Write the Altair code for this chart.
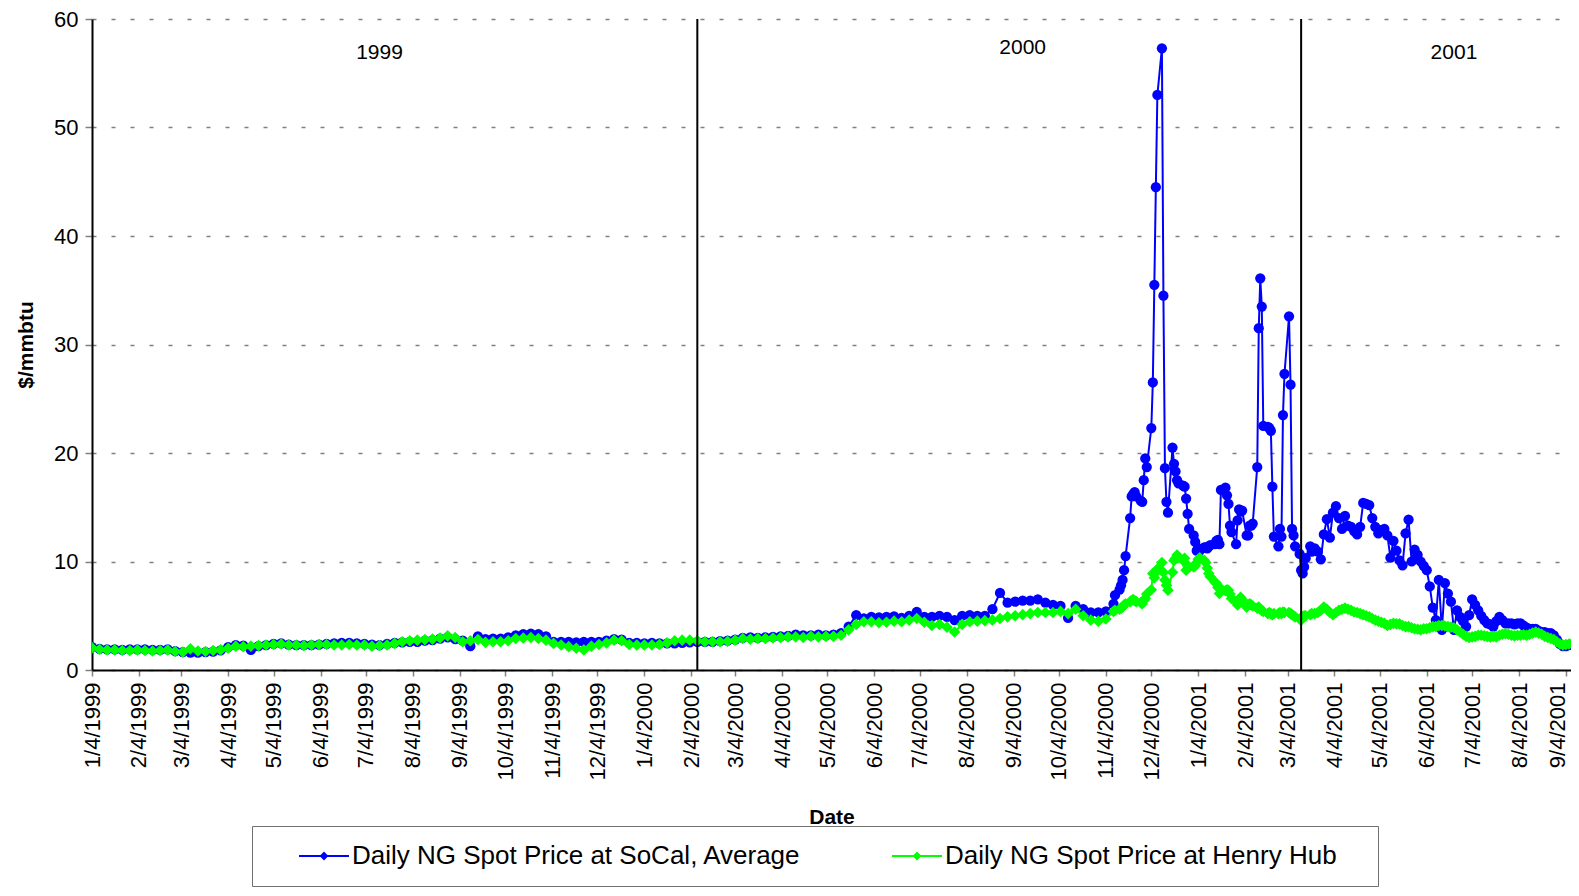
import altair as alt
import pandas as pd

FONT = "Liberation Sans"
SERIES = ["Daily NG Spot Price at SoCal, Average", "Daily NG Spot Price at Henry Hub"]
COLORS = ["#0000FF", "#00FF00"]

# Segment 1: every 5 days from 1999-01-04
SEG1_START = "1999-01-04"
SEG1_SOCAL = [2.1, 1.95, 1.9, 1.9, 1.85, 1.9,
              1.9, 1.9, 1.85, 1.85, 1.9,
              1.75, 1.65, 1.6, 1.6, 1.65, 1.7, 1.8,
              2.1, 2.3, 2.25, 1.85, 2.2, 2.3,
              2.4, 2.45, 2.35, 2.3, 2.3, 2.3,
              2.35, 2.4, 2.45, 2.5, 2.5, 2.45,
              2.4, 2.35, 2.3, 2.4, 2.5, 2.55,
              2.6, 2.6, 2.7, 2.75, 2.9, 3.0,
              2.85, 2.7, 2.2, 3.1, 2.85, 2.9,
              2.9, 3.0, 3.2, 3.3, 3.35, 3.3, 3.1,
              2.6, 2.6, 2.6, 2.55, 2.6, 2.6,
              2.6, 2.7, 2.85, 2.8, 2.5, 2.5,
              2.45, 2.5, 2.45, 2.45, 2.45, 2.5,
              2.55, 2.6, 2.6, 2.6, 2.65, 2.7,
              2.8, 2.95, 3.0, 2.95, 3.0, 3.05,
              3.1, 3.15, 3.25, 3.2, 3.2, 3.25,
              3.2, 3.25, 3.4, 4.0, 5.05, 4.75,
              4.9, 4.85, 4.9, 4.95, 4.8, 5.0,
              5.35, 4.9, 4.9, 5.0, 4.9, 4.6,
              5.0, 5.05, 5.0, 5.0, 5.6, 7.1,
              6.2, 6.3, 6.4, 6.4, 6.5, 6.2, 6.0,
              5.9, 4.8, 5.9, 5.6, 5.3, 5.3,
              5.4, 6.1]
SEG1_HH = [2.05, 1.9, 1.85, 1.85, 1.8, 1.8,
           1.85, 1.8, 1.75, 1.8, 1.85,
           1.7, 1.65, 1.95, 1.75, 1.7, 1.8, 1.85,
           2.0, 2.2, 2.15, 2.2, 2.25, 2.3,
           2.35, 2.4, 2.3, 2.3, 2.25, 2.3,
           2.35, 2.35, 2.3, 2.3, 2.35, 2.3,
           2.3, 2.2, 2.25, 2.3, 2.45, 2.6,
           2.7, 2.75, 2.8, 2.85, 2.95, 3.15,
           3.0, 2.6, 2.7, 2.8, 2.55, 2.6,
           2.6, 2.7, 2.9, 2.95, 3.0, 2.9, 2.75,
           2.45, 2.3, 2.15, 2.0, 1.85, 2.2,
           2.35, 2.5, 2.75, 2.7, 2.35, 2.3,
           2.3, 2.3, 2.35, 2.5, 2.7, 2.75,
           2.75, 2.7, 2.6, 2.6, 2.6, 2.65,
           2.75, 2.9, 2.85, 2.9, 2.9, 2.95,
           3.0, 3.05, 3.05, 3.0, 3.1, 3.05,
           3.1, 3.1, 3.2, 3.7, 4.2, 4.45,
           4.45, 4.35, 4.4, 4.5, 4.45, 4.6,
           4.75, 4.4, 4.1, 4.2, 3.95, 3.5,
           4.2, 4.45, 4.5, 4.55, 4.6, 4.75,
           4.9, 5.0, 5.1, 5.2, 5.3, 5.3, 5.3,
           5.4, 5.2, 5.6, 5.0, 4.6, 4.5,
           4.7, 5.4]

# Segment 2: every business day from 2000-11-10
SEG2_START = "2000-11-10"
SEG2_SOCAL = [6.9,
              7.4, 7.8, 8.3, 9.2, 10.5,
              14.0, 16.0, 16.2, 16.4, 16.0,
              15.6, 15.5, 17.5, 19.5, 18.7,
              22.3, 26.5, 35.5, 44.5, 53.0,
              57.3, 34.5, 18.6, 15.5, 14.5,
              20.5, 19.0, 18.3, 17.5, 17.2,
              17.0, 16.9, 15.8, 14.4, 13.0,
              12.4, 11.8, 11.0, 11.2, 11.0,
              11.3, 11.3, 11.2, 11.4, 11.5,
              11.6, 11.9, 12.0, 11.6, 16.6,
              16.8, 16.1, 15.3, 13.3, 12.7,
              11.6, 13.8, 14.8, 14.6, 14.7,
              12.4, 12.4, 13.3, 13.3, 13.5,
              18.7, 31.5, 36.1, 33.5, 22.5,
              22.4, 22.3, 22.05, 16.9, 12.3,
              11.4, 13.0, 12.3, 23.5, 27.3,
              32.6, 26.3, 13.0, 12.4, 11.4,
              10.7, 9.2, 8.9, 9.5, 10.3,
              11.4, 10.9]
SEG2_HH = [5.5,
           5.6, 5.7, 5.8, 6.0, 6.1,
           6.3, 6.4, 6.5, 6.4, 6.3,
           6.2, 6.1, 6.4, 6.6, 7.0,
           7.4, 8.9, 8.5, 9.0, 9.3,
           9.9, 9.0, 8.3, 7.8, 7.35,
           9.0, 10.1, 10.3, 10.6, 10.4,
           10.1, 10.3, 9.2, 9.6, 9.5,
           9.5, 9.6, 9.9, 10.2, 10.35,
           10.1, 9.9, 9.4, 8.9, 8.6,
           8.1, 8.0, 7.6, 7.05, 7.5,
           7.3, 7.4, 7.35, 7.0, 6.6,
           6.3, 6.0, 6.2, 6.7, 6.5,
           5.8, 6.0, 6.1, 6.0, 5.9,
           5.7, 5.8, 5.6, 5.5, 5.4,
           5.2, 5.3, 5.2, 5.1, 5.2,
           5.2, 5.3, 5.2, 5.35, 5.3,
           5.3, 5.2, 5.1, 5.0, 4.9,
           4.7, 4.6, 4.9, 5.0, 5.0,
           5.1, 5.2]

# Segment 3: every 2 days from 2001-03-22
SEG3_START = "2001-03-22"
SEG3_SOCAL = [11.2, 10.9, 10.2, 12.5, 13.9, 12.2, 14.5, 15.1, 14.0, 13.0,
              14.2, 13.3, 13.2, 12.8, 12.5, 13.2, 15.4, 15.3, 15.2, 14.0,
              13.2, 12.6, 12.9, 13.0, 12.4, 10.35, 11.9, 11.0, 10.1, 9.65,
              12.6, 13.85, 10.0, 11.1, 10.6, 10.0, 9.6, 9.2, 7.7, 5.75,
              4.6, 8.3, 3.7, 8.0, 7.05, 6.3, 3.7, 5.5, 4.9, 4.5,
              4.0, 5.05, 6.5, 6.0, 5.5, 5.0, 4.6, 4.3, 4.2, 4.0,
              4.5, 4.9, 4.6, 4.3, 4.3, 4.3, 4.2, 4.3, 4.3, 4.1,
              3.9, 3.8, 3.8, 3.8, 3.6, 3.5, 3.5, 3.4, 3.4, 3.2,
              2.8, 2.4, 2.2, 2.2, 2.3, 2.3, 2.3, 2.3]
SEG3_HH = [5.2, 5.3, 5.5, 5.8, 5.6, 5.3, 5.1, 5.3, 5.5, 5.6,
           5.7, 5.6, 5.5, 5.35, 5.3, 5.2, 5.1, 5.0, 4.9, 4.75,
           4.6, 4.5, 4.4, 4.3, 4.1, 4.2, 4.3, 4.25, 4.25, 4.1,
           4.0, 4.0, 3.9, 3.8, 3.75, 3.7, 3.8, 3.8, 3.9, 4.0,
           4.0, 4.1, 4.1, 4.05, 4.0, 3.95, 3.9, 3.7, 3.5, 3.3,
           3.1, 3.0, 3.05, 3.1, 3.2, 3.2, 3.15, 3.1, 3.05, 3.1,
           3.05, 3.2, 3.3, 3.35, 3.3, 3.2, 3.15, 3.2, 3.2, 3.25,
           3.2, 3.3, 3.4, 3.5, 3.4, 3.3, 3.1, 3.0, 2.9, 2.8,
           2.6, 2.4, 2.3, 2.35, 2.4, 2.45, 2.4, 2.45]

TICK_DATES = ["1999-01-04", "1999-02-04", "1999-03-04", "1999-04-04", "1999-05-04", "1999-06-04",
              "1999-07-04", "1999-08-04", "1999-09-04", "1999-10-04", "1999-11-04", "1999-12-04",
              "2000-01-04", "2000-02-04", "2000-03-04", "2000-04-04", "2000-05-04", "2000-06-04",
              "2000-07-04", "2000-08-04", "2000-09-04", "2000-10-04", "2000-11-04", "2000-12-04",
              "2001-01-04", "2001-02-04", "2001-03-04", "2001-04-04", "2001-05-04", "2001-06-04",
              "2001-07-04", "2001-08-04", "2001-09-04"]
X_DOMAIN = ["1999-01-04", "2001-09-07 08:00"]

YEAR_LINE_DATES = ["2000-02-08", "2001-03-13"]
YEAR_LABELS = ["1999", "2000", "2001"]
YEAR_LABEL_DATES = ["1999-07-13", "2000-09-10", "2001-06-22"]
YEAR_LABEL_VALUES = [56.9, 57.3, 56.9]

Y_TICKS = [0, 10, 20, 30, 40, 50, 60]

d1 = pd.date_range(SEG1_START, periods=len(SEG1_SOCAL), freq="5D")
d2 = pd.bdate_range(SEG2_START, periods=len(SEG2_SOCAL))
d3 = pd.date_range(SEG3_START, periods=len(SEG3_SOCAL), freq="2D")
dates = [d.strftime("%Y-%m-%d") for d in list(d1) + list(d2) + list(d3)]
socal = SEG1_SOCAL + SEG2_SOCAL + SEG3_SOCAL
hh = SEG1_HH + SEG2_HH + SEG3_HH
n = len(dates)
df = pd.DataFrame({
    "date": dates + dates,
    "price": socal + hh,
    "series": [SERIES[0]] * n + [SERIES[1]] * n,
})

ms = lambda s: int(pd.Timestamp(s).value // 10**6)
tick_ms = [ms(s) for s in TICK_DATES]
x_domain = [ms(s) for s in X_DOMAIN]

x_enc = alt.X("date:T",
              scale=alt.Scale(type="utc", domain=x_domain),
              axis=alt.Axis(values=tick_ms, labelExpr="utcFormat(datum.value, '%-m/%-d/%Y')",
                            labelAngle=270, labelAlign="right", labelBaseline="middle",
                            labelFontSize=22, labelPadding=6, labelOverlap=False,
                            labelOffset={"condition": {"test": f"datum.value >= {tick_ms[-1]}",
                                                       "value": -8}, "value": 0},
                            grid=False, domainColor="black", domainWidth=2,
                            tickColor="#808080", tickSize=6, tickWidth=1.5,
                            title="Date", titleFontSize=21, titleFontWeight="bold",
                            titlePadding=27))
y_enc = alt.Y("price:Q",
              scale=alt.Scale(domain=[0, 60], nice=False),
              axis=alt.Axis(values=Y_TICKS, labelFontSize=22, labelPadding=7,
                            grid=True, gridDash=[4, 15], gridColor="#808080", gridWidth=1.5,
                            domainColor="black", domainWidth=2,
                            tickColor="#808080", tickSize=7, tickWidth=1.5,
                            title="$/mmbtu", titleFontSize=21, titleFontWeight="bold",
                            titlePadding=17))

LEGEND_SYMBOL = "M3.4,0L13.4,0M8.4,-0.6L9.0,0L8.4,0.6L7.8,0Z"
legend = alt.Legend(orient="none", legendX=160, legendY=807, direction="horizontal",
                    title=" ", titleOrient="right", titleFontSize=26, titlePadding=24,
                    strokeColor="#707070", padding=17, fillColor="white",
                    symbolType=LEGEND_SYMBOL, symbolSize=100, symbolStrokeWidth=2,
                    labelFont=FONT, labelFontSize=26, labelColor="black",
                    labelOffset=57, columnPadding=61, labelLimit=800)
color_enc = alt.Color("series:N", scale=alt.Scale(domain=SERIES, range=COLORS), legend=legend)

base = alt.Chart(df).encode(x=x_enc, y=y_enc, color=color_enc)
s_blue = base.transform_filter(alt.datum.series == SERIES[0])
s_green = base.transform_filter(alt.datum.series == SERIES[1])

blue_line = s_blue.mark_line(strokeWidth=2, clip=True)
blue_pts = s_blue.mark_point(filled=True, shape="circle", size=105, opacity=1, clip=True)
green_line = s_green.mark_line(strokeWidth=2, clip=True)
green_pts = s_green.mark_point(filled=True, shape="diamond", size=135, opacity=1, clip=True)

rules = alt.Chart(pd.DataFrame({"date": YEAR_LINE_DATES})).mark_rule(
    color="black", strokeWidth=2).encode(x=alt.X("date:T"))
texts = alt.Chart(pd.DataFrame({"date": YEAR_LABEL_DATES, "v": YEAR_LABEL_VALUES,
                                "label": YEAR_LABELS})).mark_text(
    font=FONT, fontSize=21, color="black").encode(
    x=alt.X("date:T"), y=alt.Y("v:Q"), text="label:N")

chart = alt.layer(blue_line, blue_pts, green_line, green_pts, rules, texts).properties(
    width=1479, height=651,
    autosize=alt.AutoSizeParams(type="none"),
    padding={"left": 84, "top": 11, "right": 0, "bottom": 218},
    background="white",
).configure_view(stroke=None).configure_axis(
    labelFont=FONT, titleFont=FONT, labelColor="black", titleColor="black"
).configure_legend(titleFont=FONT)

chart.save("out.html", embed_options={"renderer": "svg", "actions": False})
